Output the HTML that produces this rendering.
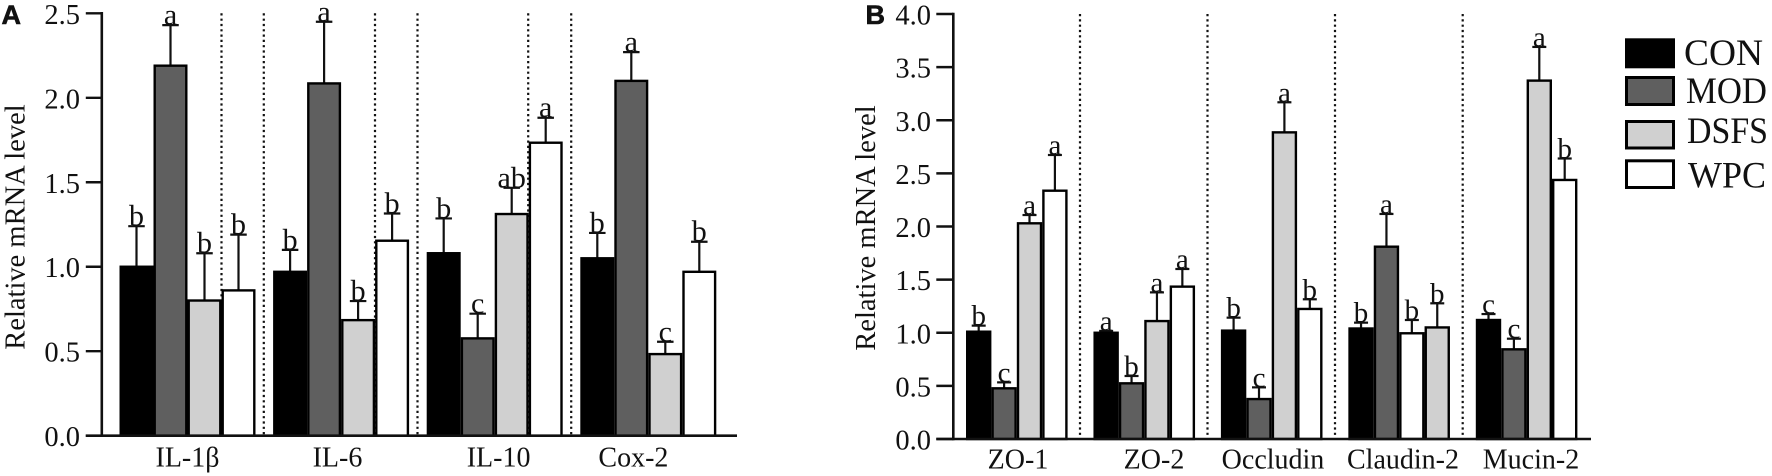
<!DOCTYPE html>
<html lang="en">
<head>
<meta charset="utf-8">
<title>Relative mRNA level charts</title>
<style>
html,body{margin:0;padding:0;background:#fff;width:1772px;height:476px;overflow:hidden}
svg{display:block;font-family:"Liberation Serif",serif;fill:#111}
</style>
</head>
<body>
<svg id="figure" width="1772" height="476" viewBox="0 0 1772 476" xmlns="http://www.w3.org/2000/svg">
  <text x="1.5" y="24" font-family="Liberation Sans, sans-serif" font-weight="700" font-size="27" stroke="#111" stroke-width="0.6">A</text>
  <text x="865.5" y="24" font-family="Liberation Sans, sans-serif" font-weight="700" font-size="27" stroke="#111" stroke-width="0.6">B</text>
  <g id="panel-a"></g>
  <g id="panel-b"></g>
  <g font-size="37">
    <g>
      <rect x="1626.5" y="39.8" width="47" height="27" fill="#000" stroke="#000" stroke-width="3"/>
      <text x="1684" y="65" textLength="79" lengthAdjust="spacingAndGlyphs">CON</text>
    </g>
    <g>
      <rect x="1626.5" y="77.5" width="47" height="27" fill="#5f5f5f" stroke="#000" stroke-width="3"/>
      <text x="1686" y="103" textLength="81" lengthAdjust="spacingAndGlyphs">MOD</text>
    </g>
    <g>
      <rect x="1626.5" y="121.5" width="47" height="26.5" fill="#d0d0d0" stroke="#000" stroke-width="3"/>
      <text x="1687" y="143" textLength="81" lengthAdjust="spacingAndGlyphs">DSFS</text>
    </g>
    <g>
      <rect x="1626.5" y="160.8" width="47" height="26.7" fill="#fff" stroke="#000" stroke-width="3"/>
      <text x="1688" y="187.5" textLength="78" lengthAdjust="spacingAndGlyphs">WPC</text>
    </g>
  </g>
</svg>
<script>
// Panel A data
const categoriesA = ['IL-1β', 'IL-6', 'IL-10', 'Cox-2'];
const yTickLabelsA = ['0.0', '0.5', '1.0', '1.5', '2.0', '2.5'];
const conA = [1.00, 0.97, 1.08, 1.05];
const modA = [2.19, 2.085, 0.576, 2.10];
const dsfsA = [0.80, 0.684, 1.312, 0.483];
const wpcA = [0.86, 1.154, 1.734, 0.97];
const conErrTopA = [1.24, 1.10, 1.286, 1.20];
const modErrTopA = [2.43, 2.45, 0.722, 2.27];
const dsfsErrTopA = [1.08, 0.797, 1.467, 0.556];
const wpcErrTopA = [1.19, 1.315, 1.882, 1.148];
const conLettersA = ['b', 'b', 'b', 'b'];
const modLettersA = ['a', 'a', 'c', 'a'];
const dsfsLettersA = ['b', 'b', 'ab', 'c'];
const wpcLettersA = ['b', 'b', 'a', 'b'];

// Panel B data
const categoriesB = ['ZO-1', 'ZO-2', 'Occludin', 'Claudin-2', 'Mucin-2'];
const yTickLabelsB = ['0.0', '0.5', '1.0', '1.5', '2.0', '2.5', '3.0', '3.5', '4.0'];
const conB = [1.01, 1.00, 1.02, 1.04, 1.12];
const modB = [0.477, 0.524, 0.376, 1.81, 0.844];
const dsfsB = [2.03, 1.11, 2.886, 0.995, 3.373];
const wpcB = [2.337, 1.434, 1.224, 1.05, 2.438];
const conErrTopB = [1.067, 1.017, 1.142, 1.095, 1.176];
const modErrTopB = [0.533, 0.593, 0.486, 2.118, 0.944];
const dsfsErrTopB = [2.108, 1.38, 3.169, 1.12, 3.69];
const wpcErrTopB = [2.673, 1.60, 1.315, 1.277, 2.64];
const conLettersB = ['b', 'a', 'b', 'b', 'c'];
const modLettersB = ['c', 'b', 'c', 'a', 'c'];
const dsfsLettersB = ['a', 'a', 'a', 'b', 'a'];
const wpcLettersB = ['a', 'a', 'b', 'b', 'b'];

// Group in which the light-grey and white bars swap position in the original figure
const swappedGroupsB = ['Claudin-2'];

const seriesNames = ['con', 'mod', 'dsfs', 'wpc'];
const seriesFills = ['#000000', '#5f5f5f', '#d0d0d0', '#ffffff'];
const NS = 'http://www.w3.org/2000/svg';

function make(parent, tag, attrs, text) {
  const el = document.createElementNS(NS, tag);
  for (const k in attrs) el.setAttribute(k, attrs[k]);
  if (text !== undefined) el.textContent = text;
  parent.appendChild(el);
  return el;
}

function drawPanel(root, c) {
  const yMax = parseFloat(c.ticks[c.ticks.length - 1]);
  const yScale = v => c.baseY - (v / yMax) * (c.baseY - c.topY);
  const groupX = g => c.x0 + g * c.groupStep;
  const barX = (g, s) => groupX(g) + s * c.pitch;

  // dotted separators
  c.separators.forEach((offset) => {
    const sep = make(root, 'line', {x1: c.x0 + offset, x2: c.x0 + offset, y1: c.topY, y2: c.baseY, stroke: '#111', 'stroke-width': 2.2, 'stroke-dasharray': '2.2 3.1'});
    
    
  });

  // bars, error bars and significance letters
  c.categories.forEach((cat, g) => {
    c.values.forEach((vals, s) => {
      let fill = seriesFills[s];
      if (c.swapped.includes(cat) && s >= 2) fill = seriesFills[s === 2 ? 3 : 2];
      const x = barX(g, s);
      const top = yScale(vals[g]);
      const cx = x + c.pitch / 2;
      const capY = yScale(c.errTops[s][g]);

      const whisker = make(root, 'line', {x1: cx, x2: cx, y1: top, y2: capY, stroke: '#111', 'stroke-width': 2.2});
      
      

      const cap = make(root, 'line', {x1: cx - c.capW / 2, x2: cx + c.capW / 2, y1: capY, y2: capY, stroke: '#111', 'stroke-width': 2.2});
      
      

      const bar = make(root, 'rect', {x: x + 1.2, y: top, width: c.pitch - 2.4, height: c.baseY - top, fill: fill, stroke: '#000', 'stroke-width': 2.4});
      
      

      const letter = make(root, 'text', {x: cx, y: capY - 0.5, 'text-anchor': 'middle', 'font-size': c.letterSize}, c.letters[s][g]);
      
      
    });

    const label = make(root, 'text', {x: c.catX[g], y: c.catY, 'text-anchor': 'middle', 'font-size': 28}, cat);
    
    
  });

  // axes
  const yAxis = make(root, 'line', {x1: c.axisX, x2: c.axisX, y1: c.topY - 1.3, y2: c.baseY + 1.3, stroke: '#111', 'stroke-width': 2.6});
  
  

  const xAxis = make(root, 'line', {x1: c.axisX - c.tickLen, x2: c.axisEnd, y1: c.baseY, y2: c.baseY, stroke: '#111', 'stroke-width': 2.6});
  
  

  c.ticks.forEach((t) => {
    const y = yScale(parseFloat(t));
    const tick = make(root, 'line', {x1: c.axisX - c.tickLen, x2: c.axisX, y1: y, y2: y, stroke: '#111', 'stroke-width': 2.4});
    
    

    const lab = make(root, 'text', {x: c.tickTextX, y: y + 10.5, 'text-anchor': 'end', 'font-size': 28.5}, t);
    
    
  });

  const title = make(root, 'text', {transform: 'translate(' + c.titleX + ',' + c.titleY + ') rotate(-90)', 'text-anchor': 'middle', 'font-size': 28.5}, 'Relative mRNA level');
  
  
}

drawPanel(document.getElementById('panel-a'), {
  categories: categoriesA, ticks: yTickLabelsA, swapped: [],
  values: [conA, modA, dsfsA, wpcA],
  errTops: [conErrTopA, modErrTopA, dsfsErrTopA, wpcErrTopA],
  letters: [conLettersA, modLettersA, dsfsLettersA, wpcLettersA],
  x0: 119.5, groupStep: 153.6, pitch: 34, capW: 16.5, letterSize: 30,
  topY: 13.3, baseY: 435.7, axisX: 101.8, axisEnd: 737, tickLen: 16, tickTextX: 80,
  separators: [102, 144.3, 255.5, 298, 408.7, 451.7],
  catX: [187.5, 337.5, 498.6, 633.4], catY: 466.7,
  titleX: 24.5, titleY: 227
});

drawPanel(document.getElementById('panel-b'), {
  categories: categoriesB, ticks: yTickLabelsB, swapped: swappedGroupsB,
  values: [conB, modB, dsfsB, wpcB],
  errTops: [conErrTopB, modErrTopB, dsfsErrTopB, wpcErrTopB],
  letters: [conLettersB, modLettersB, dsfsLettersB, wpcLettersB],
  x0: 966, groupStep: 127.45, pitch: 25.4, capW: 14, letterSize: 29,
  topY: 14, baseY: 439, axisX: 953.3, axisEnd: 1591, tickLen: 17, tickTextX: 931,
  separators: [114, 241.5, 369, 496.7],
  catX: [1018, 1154, 1273, 1403, 1531], catY: 468.5,
  titleX: 875, titleY: 228
});
</script>
</body>
</html>
